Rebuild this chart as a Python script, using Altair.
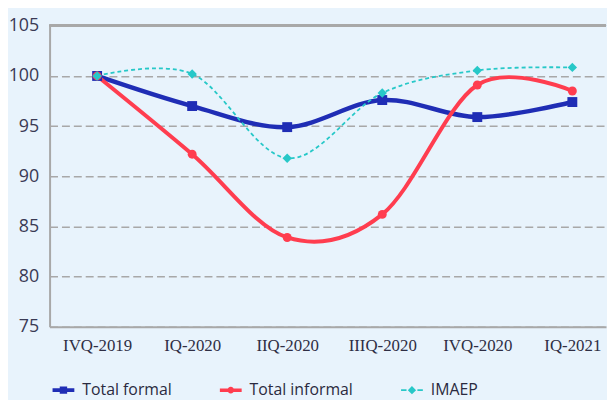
import altair as alt
import pandas as pd

quarters = ["IVQ-2019", "IQ-2020", "IIQ-2020", "IIIQ-2020", "IVQ-2020", "IQ-2021"]
total_formal = [100.0, 97.0, 94.9, 97.6, 95.9, 97.4]
total_informal = [100.0, 92.2, 83.9, 86.2, 99.1, 98.5]
imaep = [100.0, 100.2, 91.8, 98.3, 100.55, 100.85]
series_names = ["Total formal", "Total informal", "IMAEP"]
series_colors = ["#1f2db5", "#ff3d4f", "#27c8c8"]
y_ticks = [75, 80, 85, 90, 95, 100, 105]

rows = []
for name, vals in zip(series_names, [total_formal, total_informal, imaep]):
    for i, (q, v) in enumerate(zip(quarters, vals)):
        rows.append({"idx": i, "quarter": q, "series": name, "value": v})
df = pd.DataFrame(rows)

GRAY = "#a8a8a8"
label_expr = "[" + ",".join("'%s'" % q for q in quarters) + "][datum.value]"

x_enc = alt.X(
    "idx:Q",
    scale=alt.Scale(domain=[-0.5, 5 + 34 / 96], nice=False, zero=False),
    axis=alt.Axis(
        values=list(range(len(quarters))), labelExpr=label_expr, title=None,
        grid=False, ticks=False, domain=True, domainColor=GRAY, domainWidth=2,
        labelFont="Liberation Serif", labelFontSize=17, labelColor="#2e2e44",
        labelPadding=11, labelFlush=False, labelOverlap=False, labelBound=False,
    ),
)
y_enc = alt.Y(
    "value:Q",
    scale=alt.Scale(domain=[75, 105], nice=False, zero=False),
    axis=alt.Axis(
        values=y_ticks, title=None, ticks=False, domain=True, domainColor=GRAY,
        domainWidth=2, grid=True, gridColor=GRAY, gridDash=[8, 4], gridWidth=1.5,
        labelFont="Open Sans", labelFontSize=18, labelColor="#3a3a55",
        labelPadding=11,
    ),
)

base = alt.Chart(df)

top_rule = alt.Chart(df).mark_rule(color=GRAY, strokeWidth=2).encode(y=alt.datum(105))

line_styles = {
    "Total formal": dict(strokeWidth=4.5),
    "Total informal": dict(strokeWidth=4),
    "IMAEP": dict(strokeWidth=1.8, strokeDash=[4, 3]),
}
marker_styles = {
    "Total formal": dict(shape="square", size=100),
    "Total informal": dict(shape="circle", size=81),
    "IMAEP": dict(shape="diamond", size=90),
}

lines = []
markers = []
for name, color in zip(series_names, series_colors):
    sub = base.transform_filter(alt.datum.series == name)
    lines.append(
        sub.mark_line(interpolate="cardinal", color=color, **line_styles[name]).encode(x=x_enc, y=y_enc)
    )
    markers.append(
        sub.mark_point(filled=True, opacity=1, color=color, **marker_styles[name]).encode(x=x_enc, y=y_enc)
    )

legend_paths = [
    "M-1,-0.18L1,-0.18L1,0.18L-1,0.18Z M-0.34,-0.34L0.34,-0.34L0.34,0.34L-0.34,0.34Z",
    "M-1,-0.16L1,-0.16L1,0.16L-1,0.16Z M-0.3,0A0.3,0.3 0 1,1 0.3,0A0.3,0.3 0 1,1 -0.3,0Z",
    "M-1,-0.07L-0.5,-0.07L-0.5,0.07L-1,0.07Z M0.5,-0.07L1,-0.07L1,0.07L0.5,0.07Z M0,-0.38L0.38,0L0,0.38L-0.38,0Z",
]

legend_def = dict(
    orient="none", legendX=3, legendY=357, direction="horizontal", columns=3,
    title=None, labelFont="Open Sans", labelFontSize=16, labelColor="#2a2a40",
    symbolSize=484, symbolStrokeWidth=0, labelOffset=8, columnPadding=48, padding=0,
)

legend_layer = alt.Chart(pd.DataFrame({"series": series_names})).transform_filter(
    "false"
).mark_point(filled=True, opacity=1).encode(
    color=alt.Color("series:N", scale=alt.Scale(domain=series_names, range=series_colors),
                    legend=alt.Legend(**legend_def)),
    shape=alt.Shape("series:N", scale=alt.Scale(domain=series_names, range=legend_paths),
                    legend=alt.Legend(**legend_def)),
)

chart = alt.layer(top_rule, *lines, *markers, legend_layer).properties(
    width=562, height=304, background="#e8f3fc",
    padding={"left": 0, "top": 7, "right": 0, "bottom": 0},
).configure_view(fill="#f3f8fd", stroke="transparent")

chart.save("out.html", embed_options={"renderer": "svg", "actions": False})
